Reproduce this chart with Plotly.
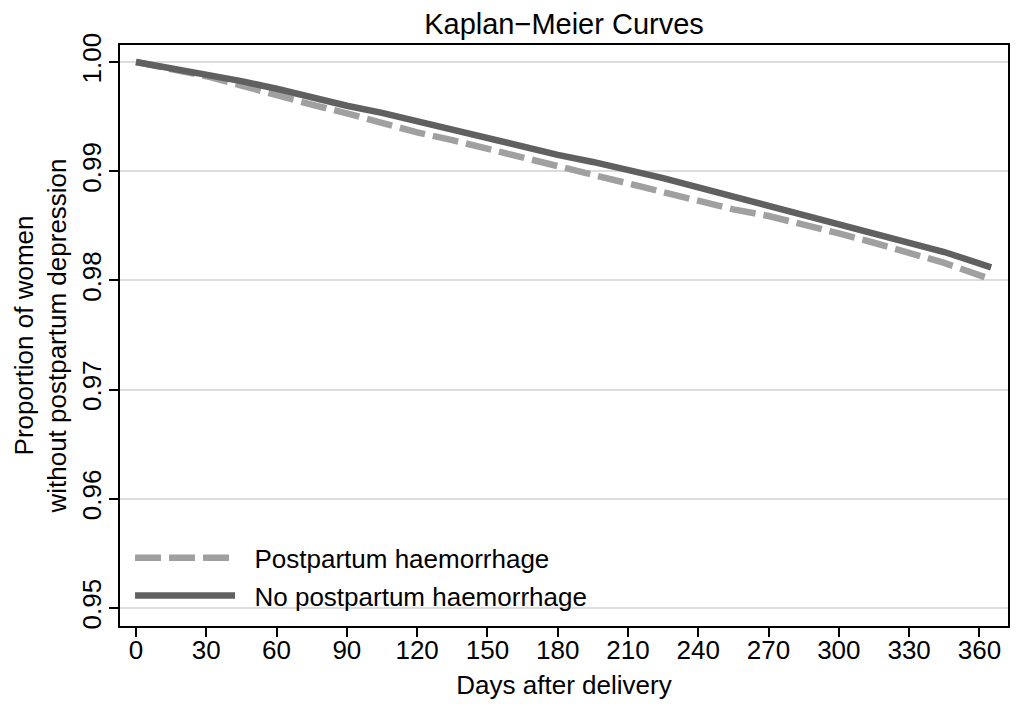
import plotly.graph_objects as go

days = [0, 15, 30, 45, 60, 75, 90, 105, 120, 135, 150, 165, 180, 195, 210,
        225, 240, 255, 270, 285, 300, 315, 330, 345, 365]
no_pph = [1.0000, 0.99945, 0.99885, 0.99825, 0.99755, 0.99675, 0.99600, 0.99535,
          0.99455, 0.99380, 0.99300, 0.99225, 0.99150, 0.99085, 0.99015, 0.98937,
          0.98853, 0.98770, 0.98687, 0.98603, 0.98520, 0.98436, 0.98352, 0.98260,
          0.98120]
pph = [1.0000, 0.99935, 0.99870, 0.99785, 0.99690, 0.99610, 0.99530, 0.99440,
       0.99355, 0.99285, 0.99205, 0.99120, 0.99035, 0.98960, 0.98885, 0.98800,
       0.98725, 0.98650, 0.98590, 0.98515, 0.98430, 0.98345, 0.98260, 0.98160,
       0.98010]
x_ticks = list(range(0, 361, 30))
y_ticks = [0.95, 0.96, 0.97, 0.98, 0.99, 1.00]
y_labels = ["0.95", "0.96", "0.97", "0.98", "0.99", "1.00"]

FONT = "Liberation Sans, Arial, Helvetica, sans-serif"
NB = "\u00a0\u00a0"

fig = go.Figure()
fig.add_trace(go.Scatter(x=days, y=pph, mode="lines", name=NB + "Postpartum haemorrhage",
                         legendgroup="a",
                         line=dict(color="#a0a0a0", width=6.5, dash="26px,8px")))
fig.add_trace(go.Scatter(x=days, y=no_pph, mode="lines", name=NB + "No postpartum haemorrhage",
                         legendgroup="b",
                         line=dict(color="#606060", width=6.5)))

fig.update_layout(
    width=1011, height=698,
    margin=dict(l=112, r=11, t=37, b=80),
    paper_bgcolor="white", plot_bgcolor="white",
    font=dict(family=FONT, color="black"),
    title=dict(text="Kaplan\u2212Meier Curves", x=0.5, xref="paper", xanchor="center",
               y=0.9778, yanchor="middle", font=dict(size=29, color="black")),
    legend=dict(x=0.0113, y=0.0114, xanchor="left", yanchor="bottom",
                bgcolor="rgba(0,0,0,0)", font=dict(size=26), itemwidth=100,
                tracegroupgap=1),
    showlegend=True,
)
fig.update_xaxes(range=[-6.83, 372.2], tickvals=x_ticks, ticks="outside", ticklen=9,
                 tickwidth=2, tickcolor="black", showline=True, linewidth=2,
                 linecolor="black", mirror=True, showgrid=False, zeroline=False,
                 automargin=False, ticklabelstandoff=-9,
                 tickfont=dict(size=26), title=dict(text="Days after delivery",
                 font=dict(size=26), standoff=12))
fig.update_yaxes(range=[0.94835, 1.00156], tickvals=y_ticks, ticktext=y_labels,
                 ticks="outside", ticklen=9, tickwidth=2, tickcolor="black",
                 tickangle=-90, showline=True, linewidth=2, linecolor="black",
                 mirror=True, showgrid=True, gridcolor="#dcdcdc", gridwidth=2,
                 zeroline=False, tickfont=dict(size=26), automargin=False,
                 ticklabelstandoff=-2,
                 title=dict(text="Proportion of women<br>without postpartum depression",
                            font=dict(size=26), standoff=2))

fig.write_html("out.html")
